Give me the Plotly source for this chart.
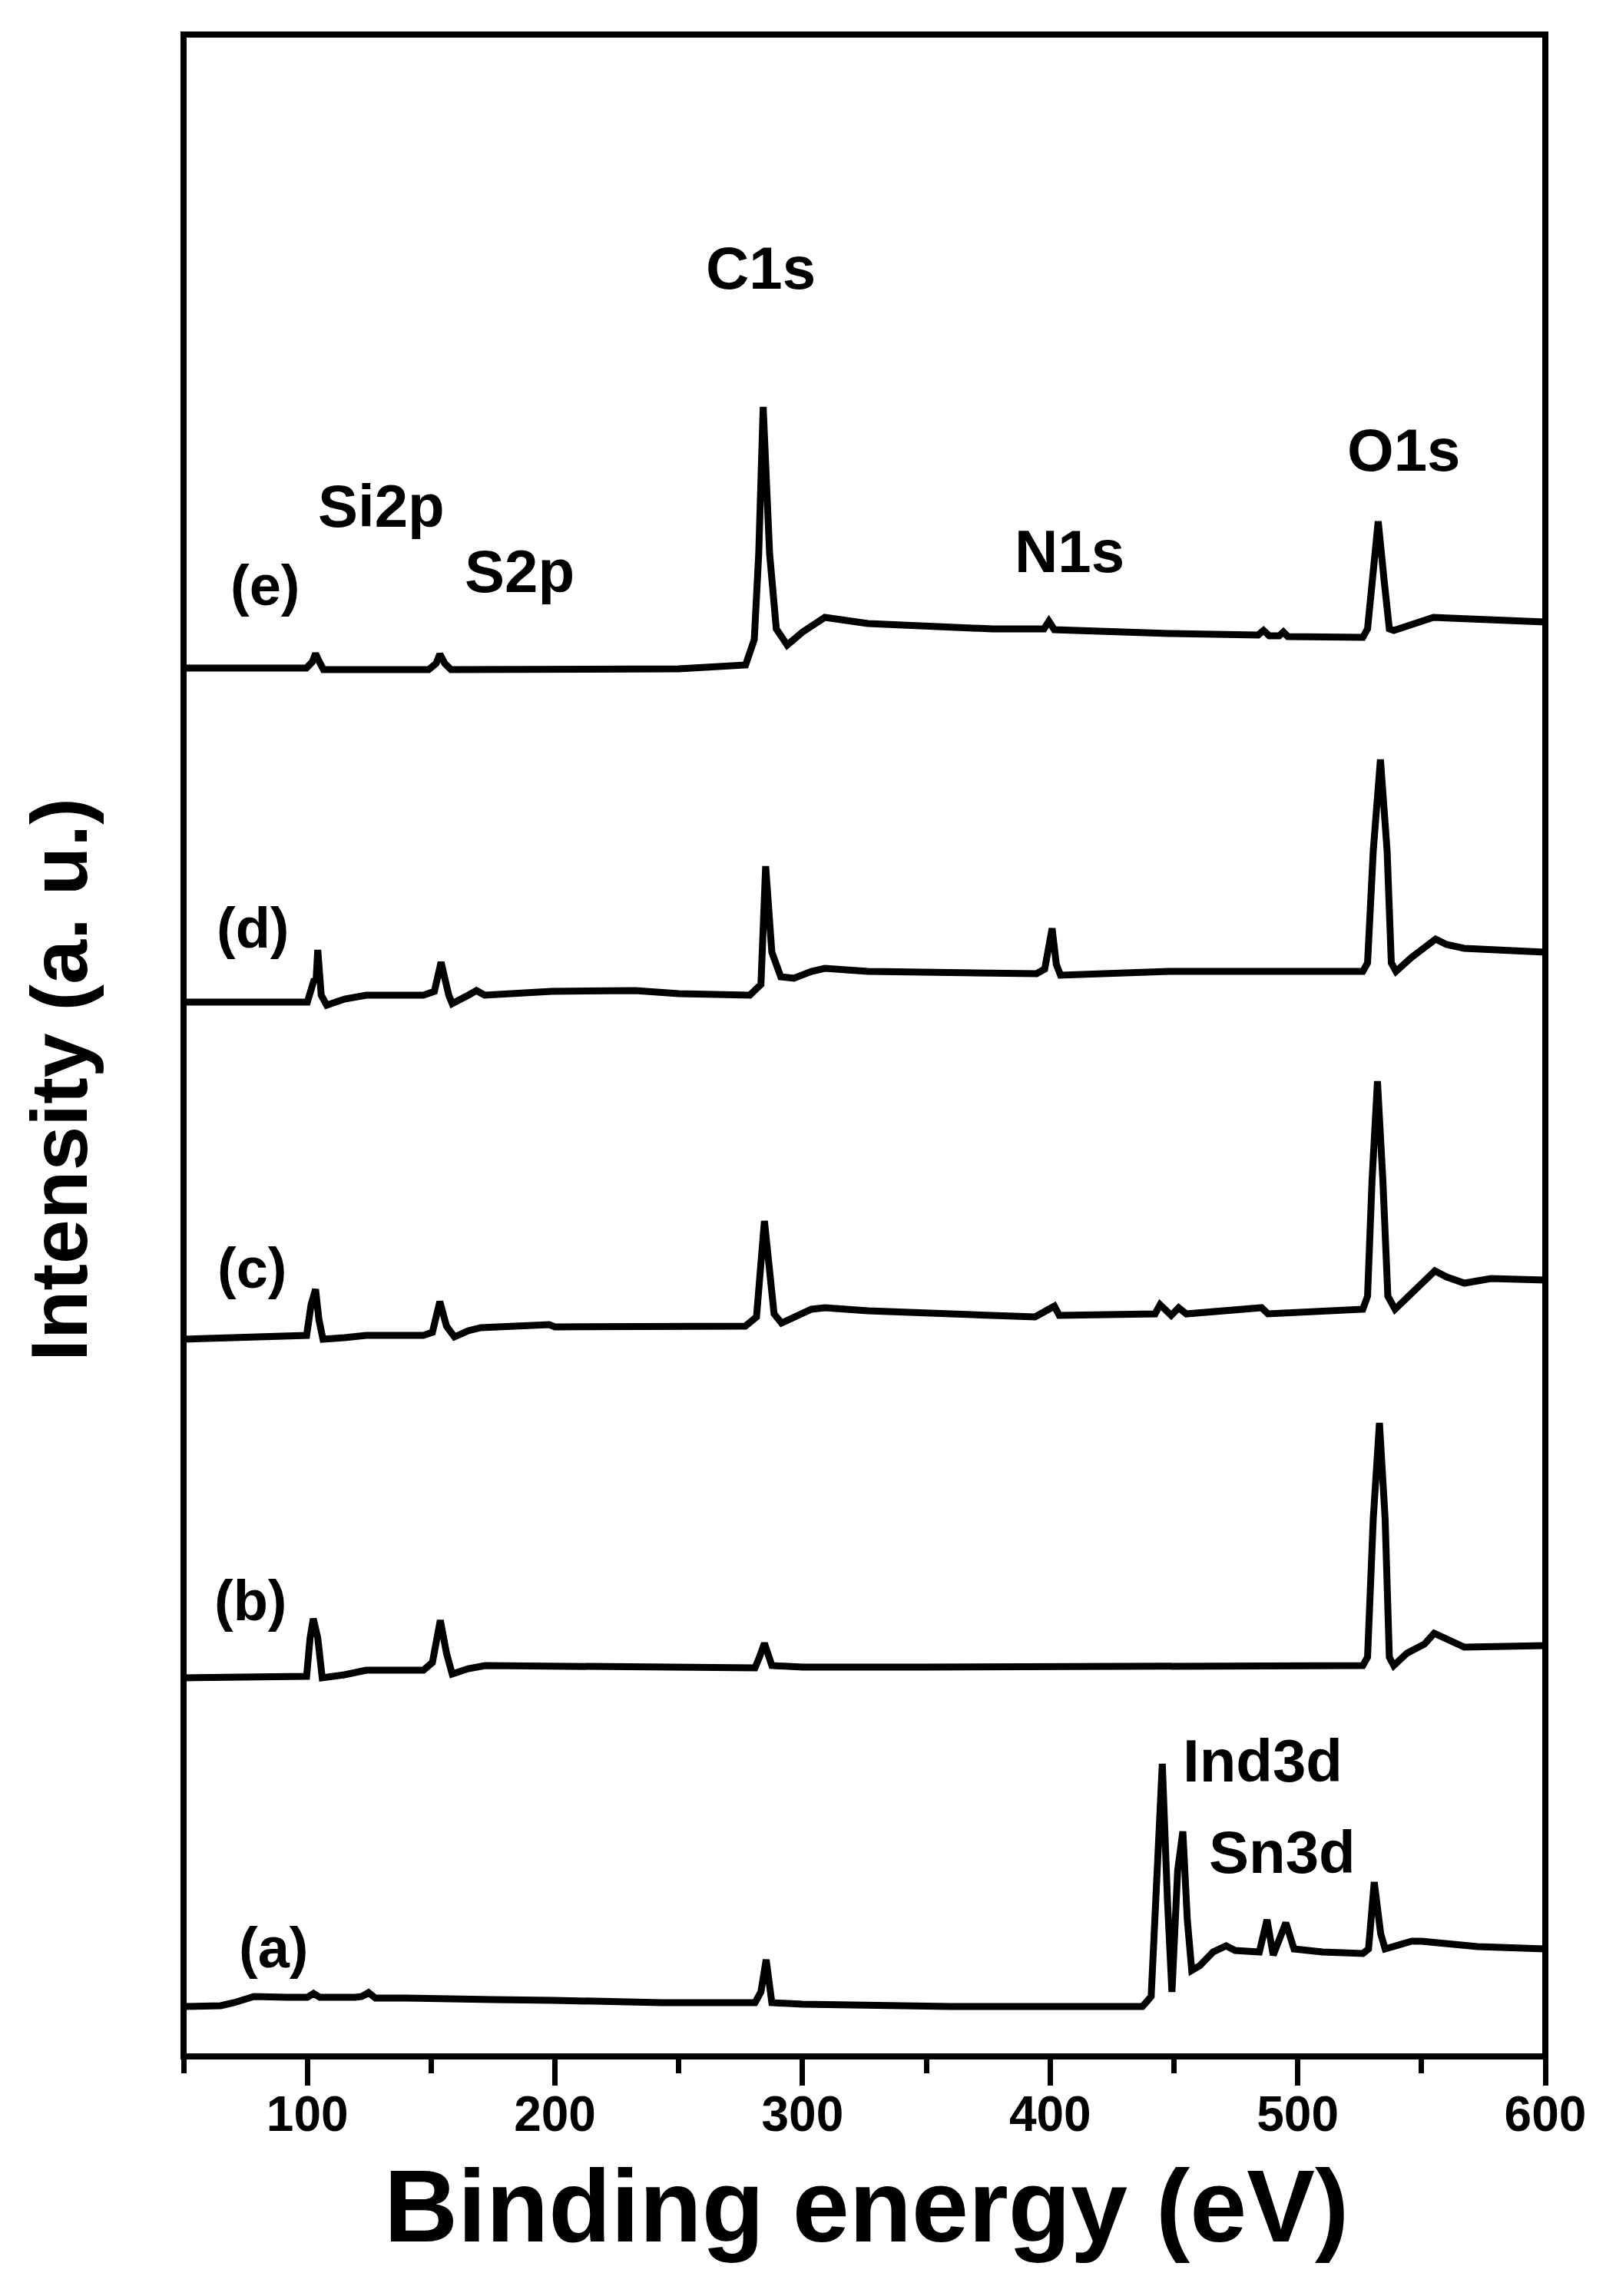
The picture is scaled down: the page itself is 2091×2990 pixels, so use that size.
import plotly.graph_objects as go

# ---------------- data ----------------
energy_a = [50, 65, 70.4, 74, 78.4, 91.8, 100, 102.5, 105, 119.3, 122, 124.7, 127.5, 140, 155, 175, 199.6, 243,
            280.8, 283.2, 285.3, 287.6, 300, 326.4, 360, 400, 437.3, 440.8, 443, 445.3, 447.4, 449.2, 451.5,
            453.6, 455.4, 457.2, 460.4, 465.8, 471.1, 474.7, 484.5, 487.6, 490.1, 495.2, 498.5, 510, 526.3,
            528.6, 530.9, 533.5, 535.3, 546, 550, 560, 572.6, 600]
inten_a = [65, 66, 70, 74, 78, 77, 77, 82, 77, 77, 78, 83, 76, 76, 76, 74, 73, 70,
           70, 84, 126, 70, 68, 66, 65, 65, 65, 78, 242, 381, 202, 84, 242,
           293, 178, 112, 118, 136, 144, 138, 136, 178, 132, 174, 140, 136, 134,
           140, 227, 160, 140, 150, 150, 147, 143, 140]

energy_b = [50, 99.7, 101.1, 102.4, 104.2, 106, 115, 123.8, 146.9, 150.5, 153.7, 156.2, 158.5, 165, 171.9, 200,
            250, 280.8, 282.6, 284.6, 287.6, 300, 350, 400, 450, 500, 526.3, 528.2, 530.5, 533, 535.3, 537,
            538.8, 544.1, 551.2, 555.1, 561.9, 567.3, 600]
inten_b = [493, 495, 545, 570, 545, 493, 497, 503, 503, 513, 568, 525, 498, 505, 509, 508,
           507, 506, 520, 538, 509, 507, 507, 508, 508, 509, 509, 520, 700, 825, 700, 520,
           509, 525, 537, 551, 541, 533, 535]

energy_c = [50, 99.7, 101.5, 103.3, 104.7, 106.3, 115, 123.8, 146.9, 150.5, 153.5, 156.2, 159.4, 165, 170.1,
            197.7, 200, 225.4, 276.9, 281.4, 283.2, 284.6, 286.7, 288.5, 291.5, 303.6, 309, 326.4, 393.9,
            401.7, 403.7, 430.1, 442.4, 444.4, 448.9, 451.9, 455, 485.4, 488, 526.3, 528.2, 530, 532.2,
            534.4, 536.4, 539.3, 547.7, 555.4, 560.2, 567.3, 578, 600]
inten_c = [934, 939, 979, 999, 959, 934, 936, 939, 939, 943, 983, 951, 937, 945, 949,
           953, 950, 951, 951, 963, 1039, 1088, 1023, 967, 955, 973, 975, 971, 963,
           977, 965, 967, 967, 979, 965, 975, 967, 975, 967, 973, 990, 1140, 1270,
           1140, 990, 973, 999, 1023, 1015, 1007, 1013, 1011]

energy_d = [50, 100, 102.8, 103.5, 104.2, 105.6, 107.8, 115, 123.8, 146.9, 151.3, 154, 157.1, 158.5, 165,
            168.3, 171.6, 198.6, 232.4, 250, 278.7, 283.2, 285.1, 287.6, 291.2, 296.5, 303.6, 309, 326.4,
            394.5, 397.8, 400.8, 402.5, 404.2, 447.9, 526.3, 528.2, 530.5, 533.4, 536.1, 537.8, 539.7,
            545.9, 550.3, 555.7, 560.1, 567.2, 600]
inten_d = [1373, 1373, 1403, 1400, 1441, 1382, 1369, 1377, 1382, 1382, 1387, 1425, 1382, 1371, 1382,
           1388, 1382, 1387, 1388, 1384, 1382, 1396, 1550, 1438, 1406, 1404, 1413, 1417, 1413,
           1410, 1416, 1469, 1422, 1408, 1413, 1413, 1424, 1570, 1689, 1570, 1424, 1413,
           1431, 1441, 1455, 1448, 1443, 1438]

energy_e = [50, 99.6, 102, 103.3, 105, 106.5, 149, 152, 153.5, 155.5, 158, 200, 250, 277, 280.5, 282.3,
            284.1, 286.7, 289.4, 293.8, 300, 309, 318, 326.4, 376.7, 397.5, 399.5, 401.7, 447.9, 484,
            486.2, 488.5, 492.5, 494.2, 496, 526.3, 528.2, 530, 532.5, 534.9, 537, 538.8, 547.7, 554.8,
            561.9, 581.5, 600]
inten_e = [1808, 1808, 1816, 1827, 1815, 1806, 1806, 1814, 1826, 1814, 1806, 1806, 1807, 1812, 1845, 1957,
           2148, 1957, 1859, 1838, 1855, 1874, 1869, 1866, 1859, 1859, 1869, 1858, 1853, 1851,
           1857, 1850, 1850, 1855, 1849, 1848, 1859, 1922, 1999, 1922, 1859, 1857, 1866, 1874,
           1873, 1871, 1868]

series = [(energy_a, inten_a), (energy_b, inten_b), (energy_c, inten_c),
          (energy_d, inten_d), (energy_e, inten_e)]

x_ticks = [100, 200, 300, 400, 500, 600]
x_title = "Binding energy (eV)"
y_title = "Intensity (a. u.)"

sample_labels = ["(a)", "(b)", "(c)", "(d)", "(e)"]
sample_label_x = [86.3, 77, 77.5, 78.2, 82.9]
sample_label_y = [142, 594, 1027, 1470, 1916]

peak_labels = ["C1s", "Si2p", "S2p", "N1s", "O1s", "Ind3d", "Sn3d"]
peak_label_x = [283, 130, 185.6, 407.7, 542.9, 485.9, 493.9]
peak_label_y = [2329, 2019, 1934, 1960, 2092, 385, 266]

# ---------------- figure ----------------
W, H = 2091, 2990
ML, MR, MT, MB = 239, 79, 45, 312
BOLD = "Liberation Sans, Arial, sans-serif"

fig = go.Figure()
for ex, iy in series:
    fig.add_trace(go.Scatter(x=ex, y=iy, mode="lines",
                             line=dict(color="black", width=9),
                             showlegend=False, hoverinfo="skip"))

for t, x, y in zip(sample_labels, sample_label_x, sample_label_y):
    fig.add_annotation(x=x, y=y, xref="x", yref="y", text=t, showarrow=False,
                       xanchor="center", yanchor="middle",
                       font=dict(family=BOLD, size=74, color="black", weight="bold"))

for t, x, y in zip(peak_labels, peak_label_x, peak_label_y):
    fig.add_annotation(x=x, y=y, xref="x", yref="y", text=t, showarrow=False,
                       xanchor="center", yanchor="middle",
                       font=dict(family=BOLD, size=78, color="black", weight="bold"))

pw = W - ML - MR
ph = H - MT - MB
# axis titles
fig.add_annotation(x=(1128 - ML) / pw, y=(H - MB - 2873) / ph, xref="paper", yref="paper",
                   text=x_title, showarrow=False, xanchor="center", yanchor="middle",
                   font=dict(family=BOLD, size=133, color="black", weight="bold"))
fig.add_annotation(x=(77 - ML) / pw, y=(H - MB - 1406) / ph, xref="paper", yref="paper",
                   text=y_title, showarrow=False, xanchor="center", yanchor="middle",
                   textangle=-90,
                   font=dict(family=BOLD, size=104, color="black", weight="bold"))

fig.add_shape(type="rect", xref="paper", yref="paper", x0=0, x1=1, y0=0, y1=1,
              line=dict(color="black", width=8), fillcolor="rgba(0,0,0,0)", layer="above")

fig.update_layout(
    width=W, height=H, autosize=False,
    margin=dict(l=ML, r=MR, t=MT, b=MB, pad=0),
    paper_bgcolor="white", plot_bgcolor="white",
    xaxis=dict(range=[50, 600], tickvals=x_ticks, ticktext=[str(v) for v in x_ticks],
               ticks="outside", ticklen=37, tickwidth=7, tickcolor="black",
               ticklabelstandoff=-18,
               minor=dict(dtick=50, tick0=0, ticks="outside", ticklen=21, tickwidth=7, tickcolor="black"),
               showline=False, showgrid=False, zeroline=False,
               tickfont=dict(family=BOLD, size=64, color="black", weight="bold")),
    yaxis=dict(range=[0, 2633], showticklabels=False, ticks="", showline=False,
               showgrid=False, zeroline=False),
)

fig.write_html("out.html", config={"displayModeBar": False},
               post_script="document.body.style.margin='0px';")
